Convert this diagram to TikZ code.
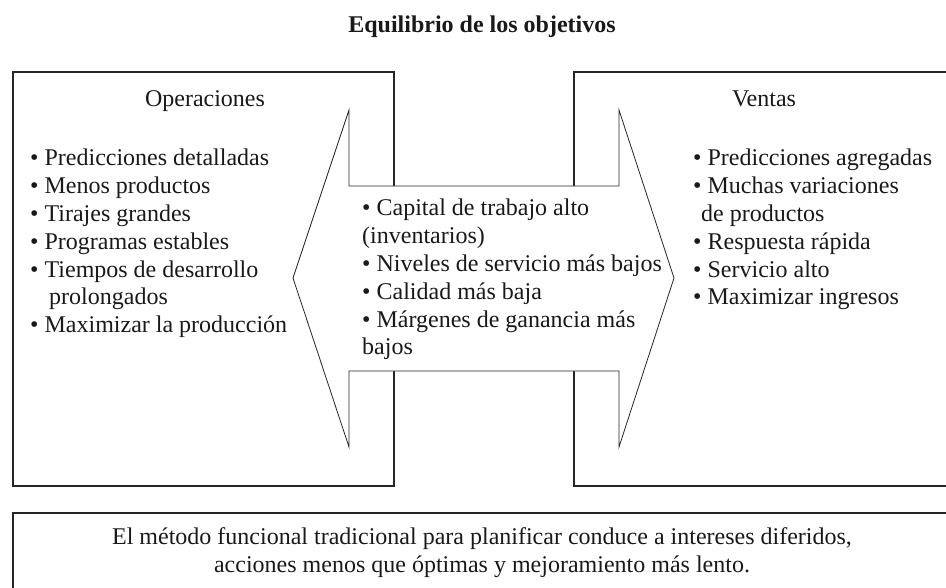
\documentclass[tikz,border=0pt]{standalone}
\usepackage{fontspec}
\setmainfont{Liberation Serif}
\begin{document}
\begin{tikzpicture}[x=1pt, y=-1pt,
    box/.style={line width=1.8pt, draw=black!85},
    item/.style={font=\fontsize{24}{28}\selectfont, inner sep=0pt,
        anchor=base west, text=black!90}]
    \useasboundingbox (0,0) rectangle (946,588);
    \clip (0,0) rectangle (946,588);

    %% Boxes
    \draw[box] (13,72) rectangle (394,486);
    \draw[box] (574,72) rectangle (960,486);
    \draw[box] (13,513) rectangle (960,600);

    %% Double arrow
    \draw[fill=white, line width=0.8pt, draw=black!85]
        (293,278) -- (349,110) -- (349,186) -- (619,186) -- (619,110)
        -- (674,278) -- (619,447) -- (619,371) -- (349,371) -- (349,447)
        -- cycle;

    %% Title
    \node[item, anchor=base, font=\fontsize{24}{28}\selectfont\bfseries]
        (title) at (482,33) {Equilibrio de los objetivos};

    %% Headers
    \node[item, anchor=base] (ops) at (205,107) {Operaciones};
    \node[item, anchor=base] (ventas) at (764,107) {Ventas};

    %% Operaciones
    \foreach \dx/\txt [count=\i] in {
        0/\textbullet\ Predicciones detalladas,
        0/\textbullet\ Menos productos,
        0/\textbullet\ Tirajes grandes,
        0/\textbullet\ Programas estables,
        0/\textbullet\ Tiempos de desarrollo,
        19/prolongados,
        0/\textbullet\ Maximizar la producción}
        \node[item] (op\i) at (30+\dx, 138.2+27.8*\i) {\txt};

    %% Conflictos
    \foreach \dx/\txt [count=\i] in {
        0/\textbullet\ Capital de trabajo alto,
        0/(inventarios),
        0/\textbullet\ Niveles de servicio más bajos,
        0/\textbullet\ Calidad más baja,
        0/\textbullet\ Márgenes de ganancia más,
        0/bajos}
        \node[item] (mid\i) at (362+\dx, 188.2+27.8*\i) {\txt};

    %% Ventas
    \foreach \dx/\txt [count=\i] in {
        0/\textbullet\ Predicciones agregadas,
        0/\textbullet\ Muchas variaciones,
        8/de productos,
        0/\textbullet\ Respuesta rápida,
        0/\textbullet\ Servicio alto,
        0/\textbullet\ Maximizar ingresos}
        \node[item] (vt\i) at (693+\dx, 138.2+27.8*\i) {\txt};

    %% Conclusion
    \node[item, anchor=base] (concl1) at (482,544)
        {El método funcional tradicional para planificar conduce a intereses diferidos,};
    \node[item, anchor=base] (concl2) at (482,572)
        {acciones menos que óptimas y mejoramiento más lento.};
\end{tikzpicture}
\end{document}
